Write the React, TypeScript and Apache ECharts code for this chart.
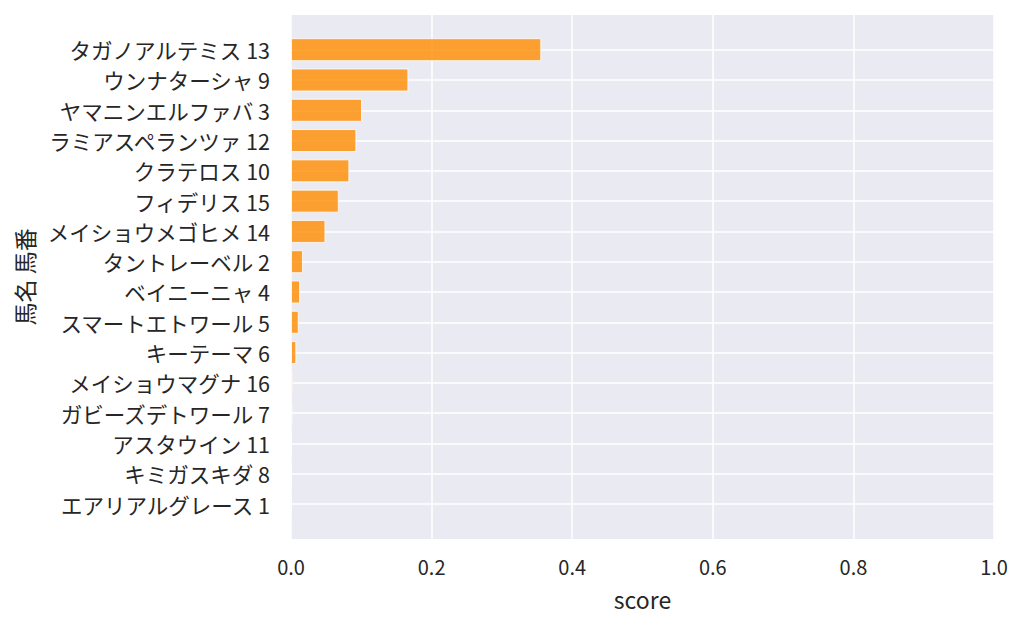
import React, { useEffect, useRef } from "react";
import * as echarts from "echarts";

const horses = [
  "タガノアルテミス 13",
  "ウンナターシャ 9",
  "ヤマニンエルファバ 3",
  "ラミアスペランツァ 12",
  "クラテロス 10",
  "フィデリス 15",
  "メイショウメゴヒメ 14",
  "タントレーベル 2",
  "ベイニーニャ 4",
  "スマートエトワール 5",
  "キーテーマ 6",
  "メイショウマグナ 16",
  "ガビーズデトワール 7",
  "アスタウイン 11",
  "キミガスキダ 8",
  "エアリアルグレース 1",
];

const scores = [
  0.356, 0.167, 0.101, 0.093, 0.083, 0.068, 0.049, 0.017, 0.013, 0.011, 0.0076,
  0.0024, 0.002, 0.0015, 0.0006, 0.0003,
];

const xTicks = [0, 0.2, 0.4, 0.6, 0.8, 1.0];

const FONT = "Noto Sans CJK JP";
const TEXT = "#262626";

export default function App() {
  const ref = useRef<HTMLDivElement>(null);
  useEffect(() => {
    if (!ref.current) return;
    const chart = echarts.init(ref.current, undefined, { renderer: "svg" });
    chart.setOption({
      animation: false,
      backgroundColor: "#ffffff",
      textStyle: { fontFamily: FONT },
      grid: [
        {
          left: 291,
          right: 30,
          top: 15,
          bottom: 88,
          show: true,
          backgroundColor: "#eaeaf2",
          borderWidth: 0,
        },
        {
          left: 291,
          right: 30,
          top: 49.7,
          bottom: 123,
          show: false,
        },
      ],
      xAxis: [
        {
          type: "value",
          gridIndex: 0,
          min: xTicks[0],
          max: xTicks[xTicks.length - 1],
          interval: 0.2,
          name: "score",
          nameLocation: "middle",
          nameGap: 48,
          nameTextStyle: { fontFamily: FONT, fontSize: 23, color: TEXT },
          axisLine: { show: false },
          axisTick: { show: false },
          axisLabel: {
            fontFamily: FONT,
            fontSize: 20,
            color: TEXT,
            margin: 17,
            formatter: (v: number) => v.toFixed(1),
          },
          splitLine: { show: true, lineStyle: { color: "#ffffff", width: 1.5 } },
        },
        {
          type: "value",
          gridIndex: 1,
          min: 0,
          max: 1,
          show: false,
          splitLine: { show: false },
        },
      ],
      yAxis: [
        {
          type: "value",
          gridIndex: 0,
          min: 0,
          max: 1,
          show: false,
          splitLine: { show: false },
        },
        {
          type: "category",
          gridIndex: 1,
          data: horses,
          inverse: true,
          boundaryGap: false,
          name: "馬名 馬番",
          nameLocation: "middle",
          nameRotate: 90,
          nameGap: 256,
          nameTextStyle: { fontFamily: FONT, fontSize: 23, color: TEXT },
          axisLine: { show: false },
          axisTick: { show: false },
          axisLabel: {
            fontFamily: FONT,
            fontSize: 21.5,
            color: TEXT,
            margin: 21,
            interval: 0,
          },
          splitLine: {
            show: true,
            interval: 0,
            lineStyle: { color: "#ffffff", width: 1.5 },
          },
        },
      ],
      series: [
        {
          type: "bar",
          xAxisIndex: 1,
          yAxisIndex: 1,
          data: scores,
          barWidth: 23,
          itemStyle: {
            color: "rgba(255,140,0,0.8)",
            borderColor: "rgba(255,255,255,0.8)",
            borderWidth: 1,
          },
        },
      ],
    });
    return () => chart.dispose();
  }, []);
  return <div ref={ref} style={{ width: 1024, height: 627, margin: -8 }} />;
}
